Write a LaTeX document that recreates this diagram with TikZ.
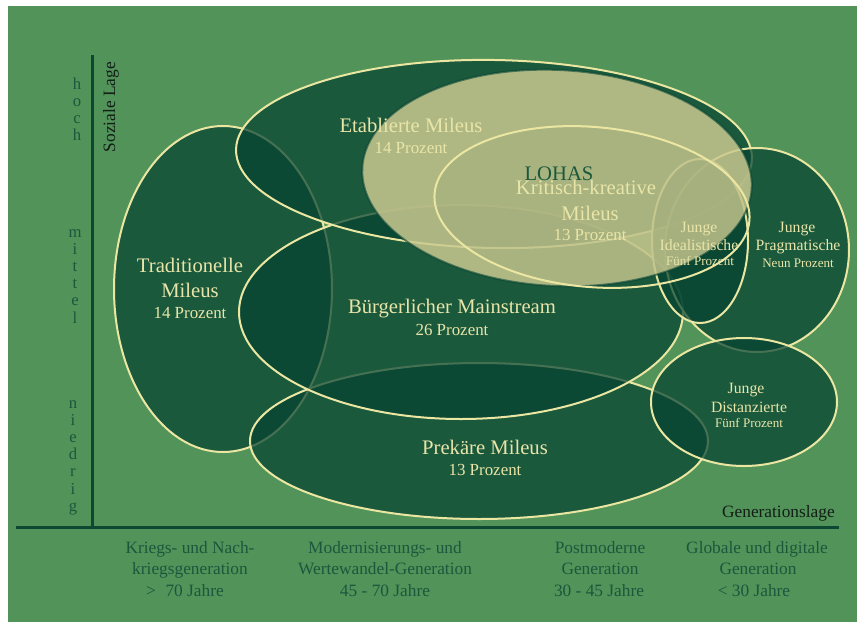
\documentclass[tikz,border=0pt]{standalone}
\usepackage{fontspec}
\setmainfont{Liberation Serif}
\begin{document}
\begin{tikzpicture}[x=0.75pt,y=-0.75pt]
\definecolor{bg}{RGB}{82,147,90}
\definecolor{milfill}{RGB}{6,68,51}
\definecolor{cream}{RGB}{235,231,163}
\definecolor{creamtext}{RGB}{233,229,168}
\definecolor{lohasfill}{RGB}{202,201,144}
\definecolor{axisc}{RGB}{14,72,50}
\definecolor{darktext}{RGB}{26,88,60}
\definecolor{blacktext}{RGB}{18,30,22}
\tikzset{
  milieu/.style={fill=milfill, fill opacity=0.72, draw=cream, line width=1.5pt},
  lohas/.style={fill=lohasfill, fill opacity=0.85, draw=milfill, draw opacity=0.6, line width=1.5pt},
  kritisch/.style={fill=milfill, fill opacity=0.04, draw=cream, line width=1.5pt},
  axisline/.style={draw=axisc, line width=2.25pt},
  lab/.style={anchor=base, inner sep=0pt, text=creamtext},
  big/.style={lab, font=\fontsize{15.5}{18}\selectfont},
  sub/.style={lab, font=\fontsize{12.7}{15}\selectfont},
  small/.style={lab, font=\fontsize{11.8}{14}\selectfont},
  tiny/.style={lab, font=\fontsize{9.8}{12}\selectfont},
  botlab/.style={anchor=base, inner sep=0pt, text=darktext, font=\fontsize{13}{15}\selectfont},
  axl/.style={anchor=base, inner sep=0pt, text=darktext, font=\fontsize{12.5}{14}\selectfont},
  axtitle/.style={inner sep=0pt, text=blacktext, font=\fontsize{13}{15}\selectfont}
}
\useasboundingbox (0,0) rectangle (857,622);
\fill[white] (0,0) rectangle (857,622);
\fill[bg] (8,6) rectangle (857,622);

% axes
\coordinate (vtop) at (92,55);
\coordinate (vbot) at (92,527);
\coordinate (hl) at (16,527);
\coordinate (hr) at (839,527);
\draw[axisline] (vtop) -- (vbot);
\draw[axisline] (hl) -- (hr);

% milieus (drawing order matters)
\path[milieu] (223,289) ellipse [x radius=109, y radius=163];
\path[milieu] (479,441) ellipse [x radius=229, y radius=78];
\path[milieu] (461,312) ellipse [x radius=222, y radius=107];
\path[milieu, rotate around={-1:(494,154)}] (494,154) ellipse [x radius=258, y radius=94];
\path[milieu] (757,250) ellipse [x radius=92, y radius=102];
\path[milieu] (700,241) ellipse [x radius=48, y radius=82];
\path[milieu] (744,402) ellipse [x radius=93, y radius=64];
\path[lohas, rotate around={-3:(557,178)}] (557,178) ellipse [x radius=195, y radius=108];
\path[kritisch, rotate around={-5:(592,207)}] (592,207) ellipse [x radius=158, y radius=80];

% axis letters
\foreach \l [count=\i] in {h,o,c,h}
  \node[axl] (hoch\i) at (77,{89.3+17.2*(\i-1)}) {\l};
\foreach \l [count=\i] in {m,i,t,t,e,l}
  \node[axl] (mittel\i) at (75,{237+17.2*(\i-1)}) {\l};
\foreach \l [count=\i] in {n,i,e,d,r,i,g}
  \node[axl] (niedrig\i) at (73,{408+17.2*(\i-1)}) {\l};

\node[axtitle, anchor=base, rotate=90] (soziale) at (115,107) {Soziale Lage};
\node[axtitle, anchor=base east] (genlage) at (835,517) {Generationslage};

% bottom labels
\node[botlab] (g1a) at (190,553) {Kriegs- und Nach-};
\node[botlab] (g1b) at (190,574) {kriegsgeneration};
\node[botlab] (g1c) at (185,596) {>\hspace{0.3em} 70 Jahre};
\node[botlab] (g2a) at (385,553) {Modernisierungs- und};
\node[botlab] (g2b) at (385,574) {Wertewandel-Generation};
\node[botlab] (g2c) at (385,596) {45 - 70 Jahre};
\node[botlab] (g3a) at (600,553) {Postmoderne};
\node[botlab] (g3b) at (600,574) {Generation};
\node[botlab] (g3c) at (599,596) {30 - 45 Jahre};
\node[botlab] (g4a) at (757,553) {Globale und digitale};
\node[botlab] (g4b) at (758,574) {Generation};
\node[botlab] (g4c) at (754,596) {< 30 Jahre};

% milieu labels
\node[big] (eta1) at (411,132) {Etablierte Mileus};
\node[sub] (eta2) at (411,153) {14 Prozent};
\node[big, text=darktext] (lohas) at (559,180) {LOHAS};
\node[big] (kk1) at (586,194) {Kritisch-kreative};
\node[big] (kk2) at (590,220) {Mileus};
\node[sub] (kk3) at (590,240) {13 Prozent};
\node[small] (ji1) at (699,232) {Junge};
\node[small] (ji2) at (699,250) {Idealistische};
\node[tiny] (ji3) at (700,265) {Fünf Prozent};
\node[small] (jp1) at (797,232) {Junge};
\node[small] (jp2) at (798,250) {Pragmatische};
\node[tiny] (jp3) at (798,267) {Neun Prozent};
\node[small] (jd1) at (746,393) {Junge};
\node[small] (jd2) at (749,412) {Distanzierte};
\node[tiny] (jd3) at (749,427) {Fünf Prozent};
\node[big] (tr1) at (190,272) {Traditionelle};
\node[big] (tr2) at (190,297) {Mileus};
\node[sub] (tr3) at (190,318) {14 Prozent};
\node[big] (bm1) at (452,313) {Bürgerlicher Mainstream};
\node[sub] (bm2) at (452,335) {26 Prozent};
\node[big] (pm1) at (485,454) {Prekäre Mileus};
\node[sub] (pm2) at (485,475) {13 Prozent};
\end{tikzpicture}
\end{document}
